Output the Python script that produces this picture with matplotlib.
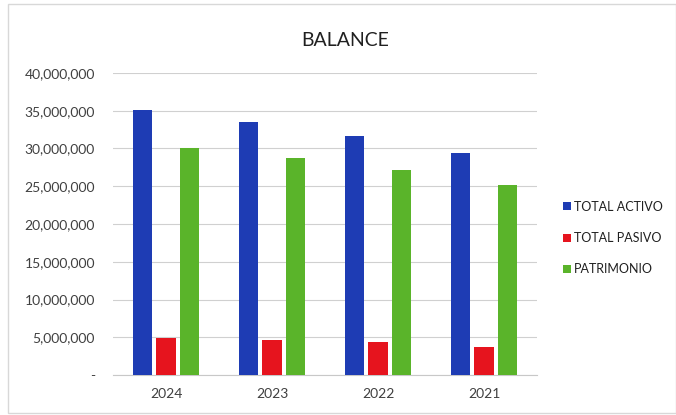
import numpy as np
import matplotlib.pyplot as plt
from matplotlib.ticker import FuncFormatter

years = ['2024', '2023', '2022', '2021']
total_activo = [35100000, 33550000, 31700000, 29350000]
total_pasivo = [4950000, 4640000, 4380000, 3700000]
patrimonio = [30050000, 28800000, 27200000, 25100000]

plt.rcParams['font.family'] = ['Lato', 'DejaVu Sans']

fig = plt.figure(figsize=(6.76, 4.15), dpi=100)
ax = fig.add_axes([113/676, 1-375/415, 424/676, 302/415])

x = np.arange(len(years))
w = 0.18
off = 0.218
ax.bar(x - off, total_activo, w, color='#1e3cb4', label='TOTAL ACTIVO', zorder=3)
ax.bar(x, total_pasivo, w, color='#e6141e', label='TOTAL PASIVO', zorder=3)
ax.bar(x + off, patrimonio, w, color='#5ab42a', label='PATRIMONIO', zorder=3)

ax.set_xlim(-0.5, 3.5)
ax.set_ylim(0, 40000000)
ax.set_yticks(np.arange(0, 40000001, 5000000))
ax.yaxis.set_major_formatter(FuncFormatter(lambda v, p: '-' if v == 0 else f'{int(v):,}'))
ax.set_xticks(x)
ax.set_xticklabels(years)
ax.tick_params(length=0, labelsize=10, colors='#404040')
ax.tick_params(axis='y', pad=13)
ax.tick_params(axis='x', pad=9)
ax.grid(axis='y', color='#d0d0d0', linewidth=0.8, zorder=0)
for s in ['top', 'right', 'left']:
    ax.spines[s].set_visible(False)
ax.spines['bottom'].set_color('#c8c8c8')

fig.text(345/676, 1-40/415, 'BALANCE', ha='center', va='center', fontsize=14, color='#202020')

ax.legend(loc='center left', bbox_to_anchor=(563/676, 1-238/415), bbox_transform=fig.transFigure,
          frameon=False, fontsize=9, handlelength=0.6, handleheight=0.6, handletextpad=0.3,
          labelspacing=1.55, labelcolor='#202020', borderaxespad=0, borderpad=0)

fig.patches.append(plt.Rectangle((8/676, 0.005), 1-8/676, 0.985, transform=fig.transFigure,
                                 fill=False, edgecolor='#d8d8d8', linewidth=1))

fig.savefig('out.png', dpi=100)
